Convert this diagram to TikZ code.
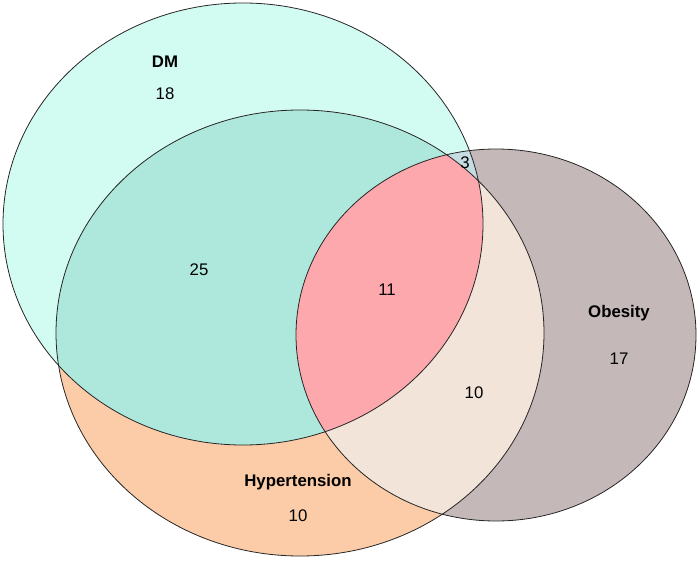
\documentclass[tikz,border=0pt]{standalone}
\usepackage{fontspec}
\setmainfont{Liberation Sans}
\usepackage{xcolor}
\usetikzlibrary{positioning}

\definecolor{dmonly}{RGB}{210,252,242}
\definecolor{hyponly}{RGB}{252,204,168}
\definecolor{obonly}{RGB}{196,184,184}
\definecolor{dmhyp}{RGB}{174,232,220}
\definecolor{dmob}{RGB}{196,220,226}
\definecolor{hypob}{RGB}{242,228,216}
\definecolor{allthree}{RGB}{252,168,172}

\begin{document}
\begin{tikzpicture}[
    x=1pt,y=-1pt,
    outline/.style={draw=black!85,line width=0.8pt},
    setname/.style={font=\fontsize{16.8}{19}\selectfont\bfseries,inner sep=0pt},
    count/.style={font=\fontsize{16.8}{19}\selectfont,inner sep=0pt}
  ]
    \useasboundingbox (0,0) rectangle (700,561);
    \def\dmset{(243,224) ellipse [x radius=240,y radius=221]}
    \def\hypset{(300,333) ellipse [x radius=244,y radius=223]}
    \def\obset{(496,335) ellipse [x radius=200,y radius=186]}

    % Single sets.
    \fill[dmonly] \dmset;
    \fill[hyponly] \hypset;
    \fill[obonly] \obset;

    % Pairwise overlaps.
    \begin{scope}
      \clip \dmset;
      \fill[dmhyp] \hypset;
      \fill[dmob] \obset;
    \end{scope}
    \begin{scope}
      \clip \hypset;
      \fill[hypob] \obset;
      \clip \dmset;
      \fill[allthree] \obset;
    \end{scope}

    % Outlines.
    \draw[outline] \dmset;
    \draw[outline] \hypset;
    \draw[outline] \obset;

    % Names and counts.
    \node[setname] (dm) at (165,62) {DM};
    \node[count,below=32pt of dm.center,anchor=center] (ndm) {18};
    \node[count] (ndmhyp) at (199,270) {25};
    \node[count] (nall) at (387,290) {11};
    \node[count] (ndmob) at (465,163) {3};
    \node[setname] (ob) at (619,313) {Obesity};
    \node[count,below=46pt of ob.center,anchor=center] (nob) {17};
    \node[count] (nhypob) at (474,393) {10};
    \node[setname] (hyp) at (298,482) {Hypertension};
    \node[count,below=34pt of hyp.center,anchor=center] (nhyp) {10};
\end{tikzpicture}
\end{document}
